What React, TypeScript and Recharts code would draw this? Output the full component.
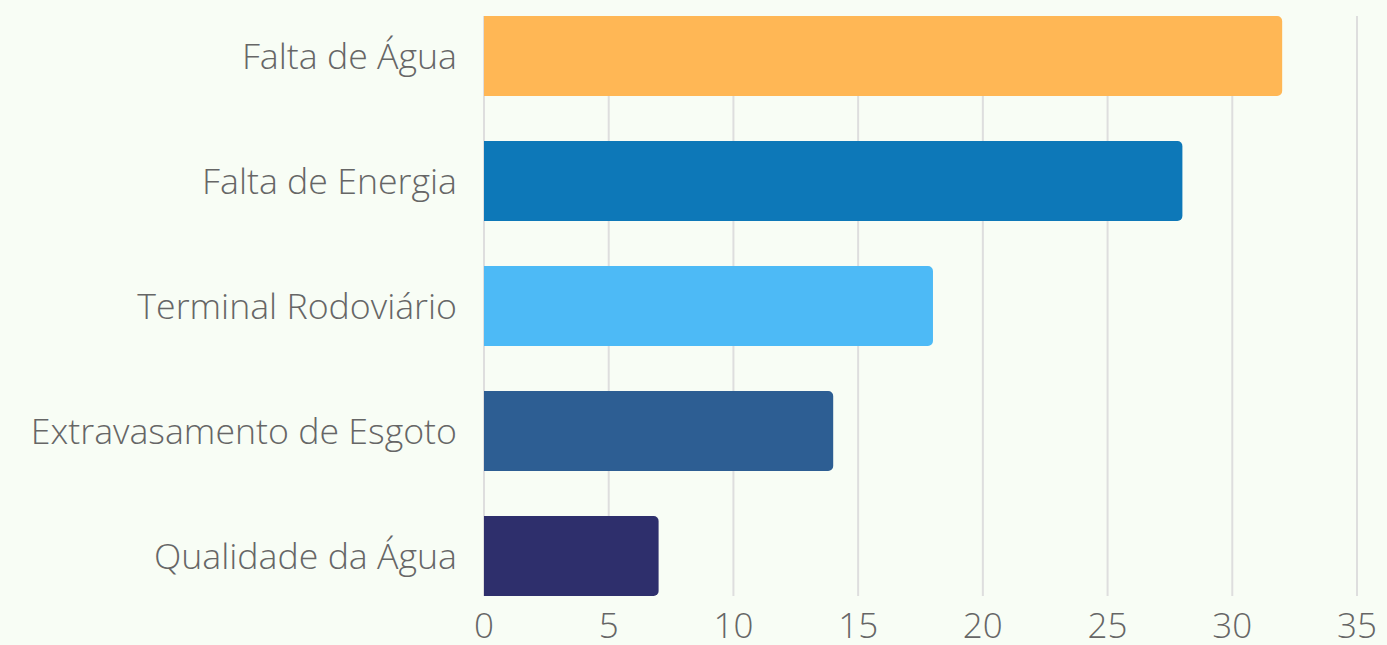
import { Bar, BarChart, CartesianGrid, Cell, XAxis, YAxis } from 'recharts'

const categories = [
  'Falta de Água',
  'Falta de Energia',
  'Terminal Rodoviário',
  'Extravasamento de Esgoto',
  'Qualidade da Água',
]
const counts = [32, 28, 18, 14, 7]
const colors = ['#ffb755', '#0d78b8', '#4dbaf6', '#2d5e93', '#2e2f6c']
const xTicks = [0, 5, 10, 15, 20, 25, 30, 35]

const data = categories.map((name, i) => ({ name, value: counts[i] }))

const yFont = { fontFamily: '"Open Sans", sans-serif', fontSize: 35.7, fontWeight: 300, fill: '#666' }
const xFont = { ...yFont, fontSize: 35 }

export default function App() {
  return (
    <div style={{ position: 'absolute', left: 0, top: 0, width: 1387, height: 645, background: '#f8fdf5' }}>
      <BarChart
        width={1387}
        height={645}
        data={data}
        layout="vertical"
        margin={{ top: 16, right: 30, bottom: 0, left: 0 }}
        barCategoryGap={22.5}
      >
        <CartesianGrid horizontal={false} stroke="#dedede" strokeWidth={2} />
        <XAxis
          type="number"
          domain={[0, 35]}
          ticks={xTicks}
          axisLine={false}
          tickLine={false}
          tickSize={0}
          tickMargin={17}
          height={49}
          tick={xFont}
        />
        <YAxis
          type="category"
          dataKey="name"
          width={484}
          axisLine={false}
          tickLine={false}
          tickSize={0}
          tickMargin={27}
          padding={{ top: -22.5, bottom: -22.5 }}
          tick={yFont}
        />
        <Bar dataKey="value" radius={[0, 5, 5, 0]} isAnimationActive={false}>
          {data.map((d, i) => (
            <Cell key={d.name} fill={colors[i]} />
          ))}
        </Bar>
      </BarChart>
    </div>
  )
}
